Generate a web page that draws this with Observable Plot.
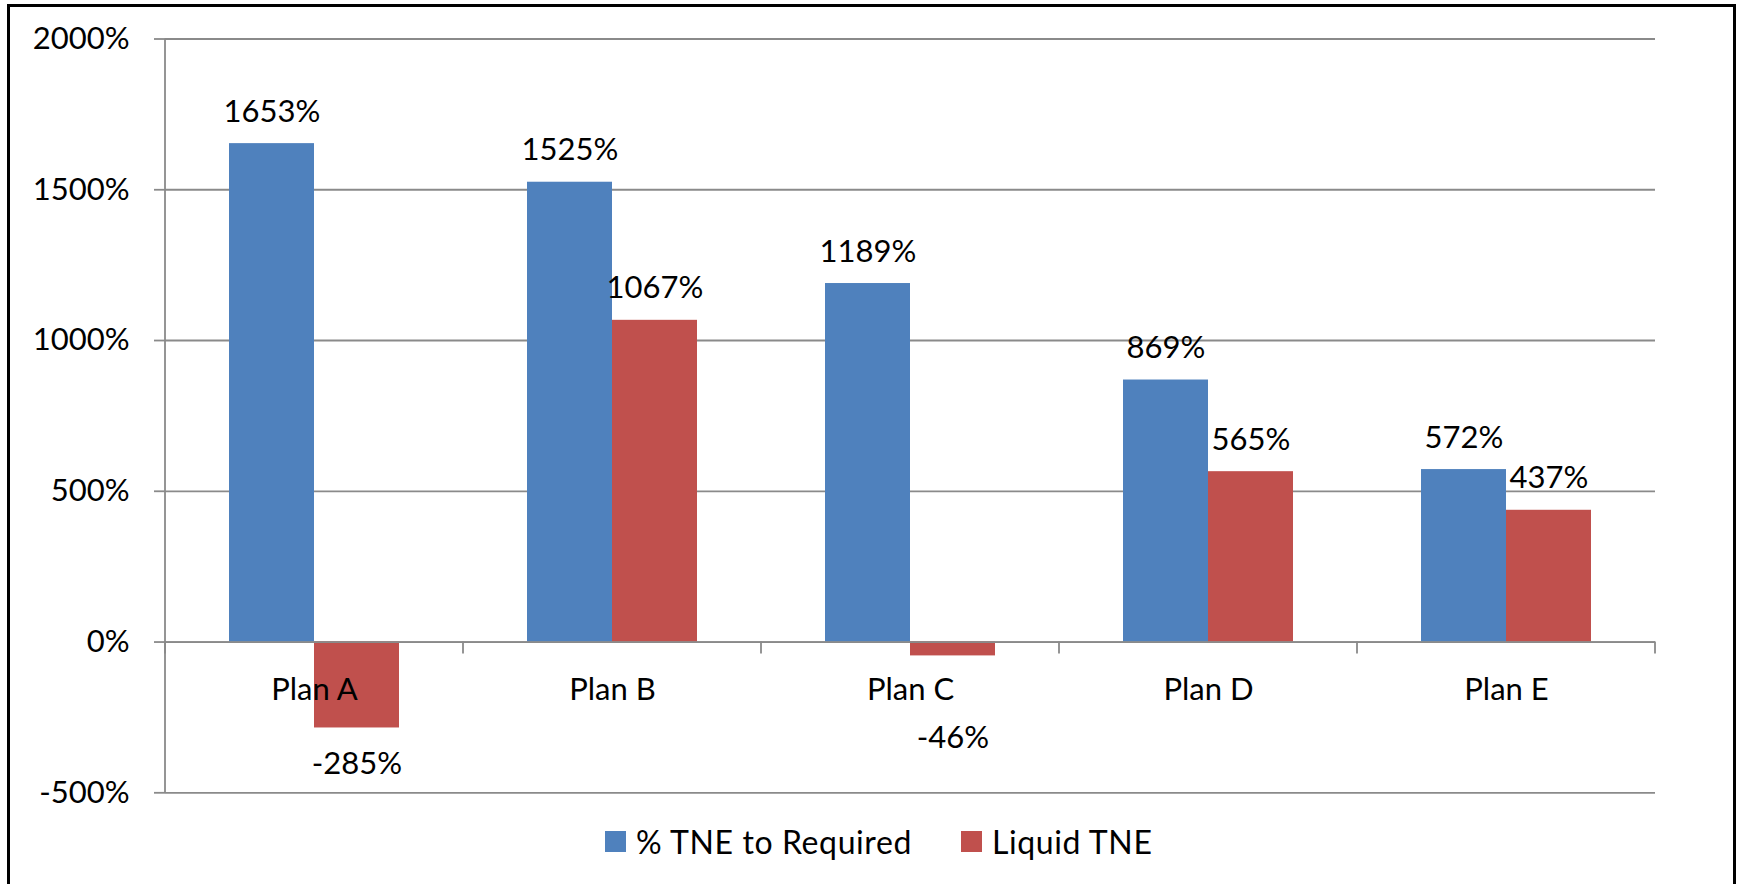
<!DOCTYPE html>
<html>
<head>
<meta charset="utf-8">
<script src="https://cdn.jsdelivr.net/npm/d3@7"></script>
<script src="https://cdn.jsdelivr.net/npm/@observablehq/plot@0.6"></script>
<style>
  html, body { margin: 0; padding: 0; background: #fff; overflow: hidden; }
  #wrap { position: absolute; left: 0; top: 0; width: 1741px; height: 884px; }
  #border { position: absolute; left: 7px; top: 4px; width: 1729px; height: 920px; border: 3px solid #000; box-sizing: border-box; pointer-events: none; }
  #chart { position: absolute; left: 0; top: 0; }
  #legend { position: absolute; left: 605px; top: 821px; height: 40px; display: flex; align-items: center; font-family: Lato, "Liberation Sans", sans-serif; font-size: 32px; letter-spacing: 0.6px; color: #000; white-space: nowrap; }
  .item { display: flex; align-items: center; }
  .sw { width: 21px; height: 21px; margin-right: 10px; }
</style>
</head>
<body>
<div id="wrap">
  <div id="chart"></div>
  <div id="legend"></div>
  <div id="border"></div>
</div>
<script>
const categories = ["Plan A", "Plan B", "Plan C", "Plan D", "Plan E"];
const seriesNames = ["% TNE to Required", "Liquid TNE"];
const tneToRequired = [1653, 1525, 1189, 869, 572];
const liquidTNE = [-285, 1067, -46, 565, 437];
const yTicks = [-500, 0, 500, 1000, 1500, 2000];
const seriesColors = ["#4F81BD", "#C0504D"];

const rows = [];
categories.forEach((c, i) => {
  rows.push({cat: c, series: seriesNames[0], value: tneToRequired[i]});
  rows.push({cat: c, series: seriesNames[1], value: liquidTNE[i]});
});

const gridColor = "#8a8a8a";
const font = "Lato, 'Liberation Sans', sans-serif";
const yDomain = [yTicks[0], yTicks[yTicks.length - 1]];

// Category boundary ticks on the zero line plus the vertical value-axis line
const axisLines = (index, scales, values, dims) => {
  const g = d3.create("svg:g");
  const fx = scales.fx;
  const ys = scales.y;
  const y0 = ys(0);
  const xs = categories.map(c => fx(c)).concat([fx(categories[categories.length - 1]) + fx.bandwidth()]);
  g.selectAll("line.tick").data(xs).join("line")
    .attr("class", "tick")
    .attr("x1", d => d).attr("x2", d => d)
    .attr("y1", y0).attr("y2", y0 + 12)
    .attr("stroke", gridColor).attr("stroke-width", 1.8);
  g.append("line")
    .attr("x1", xs[0]).attr("x2", xs[0])
    .attr("y1", ys(yDomain[1])).attr("y2", ys(yDomain[0]))
    .attr("stroke", gridColor).attr("stroke-width", 1.8);
  return g.node();
};

const chart = Plot.plot({
  width: 1741,
  height: 815,
  marginTop: 38.5,
  marginBottom: 22.7,
  marginLeft: 163,
  marginRight: 84,
  style: {fontFamily: font, fontSize: "31px", color: "#000", background: "transparent"},
  fx: {domain: categories, padding: 0, axis: null},
  x: {domain: seriesNames, paddingInner: 0, paddingOuter: 0.75, axis: null},
  y: {domain: yDomain, axis: null},
  color: {domain: seriesNames, range: seriesColors},
  marks: [
    Plot.gridY(yTicks, {stroke: gridColor, strokeOpacity: 1, strokeWidth: 1.8}),
    Plot.axisY(yTicks, {
      tickSize: 11, tickPadding: 25, tickFormat: d => d + "%", label: null,
      stroke: gridColor, strokeWidth: 1.8, fill: "#000", fontSize: 31
    }),
    Plot.barY(rows, {fx: "cat", x: "series", y: "value", fill: "series"}),
    Plot.ruleY([0], {stroke: gridColor, strokeWidth: 1.8}),
    Plot.frame({facet: "super", stroke: "none", render: axisLines}),
    Plot.text(categories, {fx: d => d, y: 0, text: d => d, dy: 48, frameAnchor: "middle", fill: "#000", fontSize: 31}),
    Plot.text(rows.filter(d => d.value >= 0), {
      fx: "cat", x: "series", y: "value", text: d => d.value + "%",
      lineAnchor: "bottom", dy: -22, fill: "#000", fontSize: 31
    }),
    Plot.text(rows.filter(d => d.value < 0), {
      fx: "cat", x: "series", y: d => Math.min(d.value, -200), text: d => d.value + "%",
      lineAnchor: "top", dy: 24, fill: "#000", fontSize: 31
    })
  ]
});
document.getElementById("chart").appendChild(chart);

const legend = d3.select("#legend");
seriesNames.forEach((s, i) => {
  const it = legend.append("div").attr("class", "item").style("margin-right", i === 0 ? "49px" : "0px");
  it.append("div").attr("class", "sw").style("background", seriesColors[i]);
  it.append("span").text(s);
});
</script>
</body>
</html>
